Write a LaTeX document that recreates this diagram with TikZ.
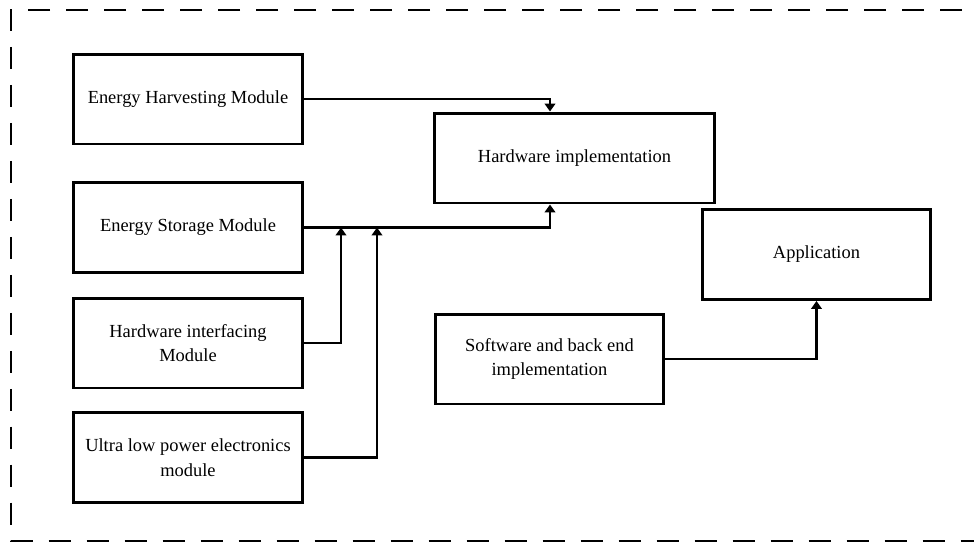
\documentclass[tikz,border=0pt]{standalone}
\usepackage{fontspec}
\setmainfont{Liberation Serif}
\usetikzlibrary{arrows.meta}

\tikzset{
  modulo/.style={draw, line width=1.7pt, minimum width=4.58cm, minimum height=1.8cm,
    align=center, inner sep=2pt, font=\fontsize{10.5}{14}\selectfont},
  freccia/.style={line width=1.4pt, -{Triangle[width=6pt,length=4.5pt]}},
  bordo/.style={line width=1.6pt, dash pattern=on 0.44cm off 0.32cm}
}

\begin{document}
\begin{tikzpicture}[x=0.02cm, y=-0.02cm]
    \useasboundingbox (0,0) rectangle (974,545);
    \clip (0,0) rectangle (974,545);
    % cornice tratteggiata
    \draw[bordo]
(1000,10) --
(11,10) --
(11,541) --
(1000,541);
    % moduli hardware
    \node[modulo] (ehm) at (188,99) {Energy Harvesting Module};
    \node[modulo] (esm) at (188,227.5) {Energy Storage Module};
    \node[modulo] (him) at (188,343) {Hardware interfacing\\Module};
    \node[modulo] (ulp) at (188,457.5) {Ultra low power electronics\\module};
    \node[modulo, minimum width=5.6cm] (hw) at (574.5,158) {Hardware implementation};
    % parte software
    \node[modulo] (sw) at (549.5,359) {Software and back end\\implementation};
    \node[modulo] (app) at (816.5,254.5) {Application};
    \coordinate (j1) at (341,227.5);
    \coordinate (j2) at (377,227.5);
    % collegamenti
    \draw[freccia] (ehm.east) -| ([xshift=-0.49cm]hw.north);
    \draw[freccia] (esm.east) -| ([xshift=-0.49cm]hw.south);
    \draw[freccia] (him.east) -| (j1);
    \draw[freccia] (ulp.east) -| (j2);
    \draw[freccia] (sw.east) -| (app.south);
\end{tikzpicture}
\end{document}
